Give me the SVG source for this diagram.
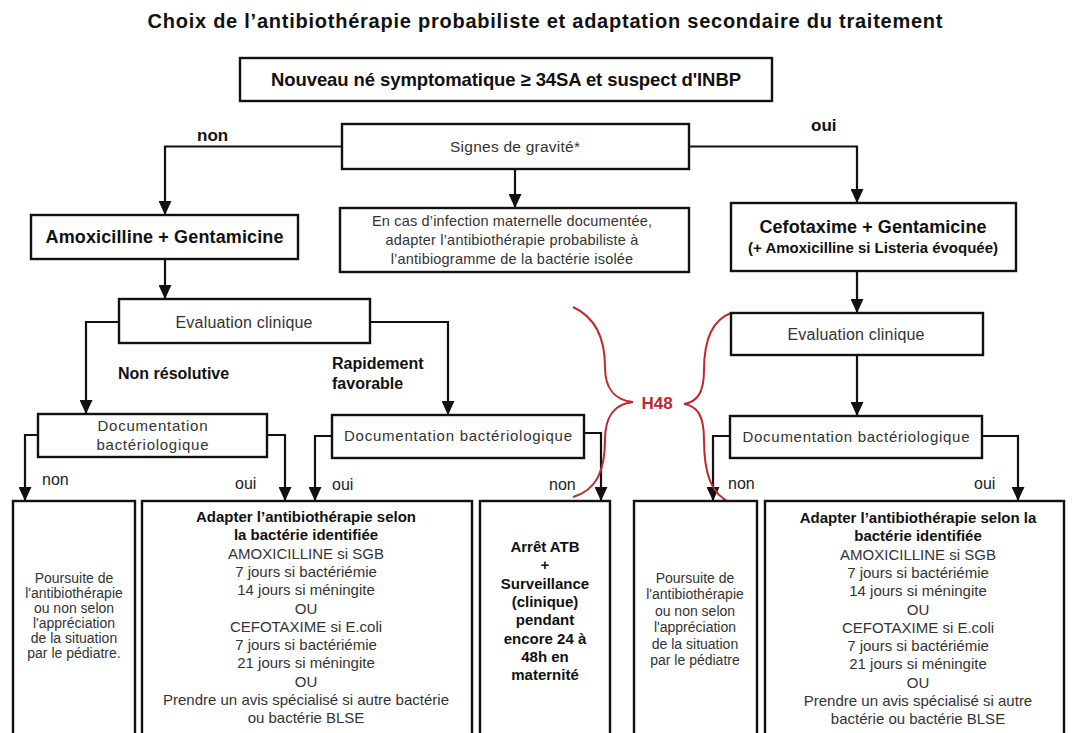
<svg xmlns="http://www.w3.org/2000/svg" width="1072" height="733" viewBox="0 0 1072 733">
<style>
text{font-family:"Liberation Sans",Arial,sans-serif;}
.box{fill:#fff;stroke:#111;stroke-width:2.4;}
.con{fill:none;stroke:#111;stroke-width:2.2;}
.brace{fill:none;stroke:#c0282d;stroke-width:2;}
.b{font-weight:bold;fill:#111;}
.r{fill:#333;}
.m{text-anchor:middle;}
.lab{font-size:17px;font-weight:bold;fill:#111;}
.lab2{font-size:16px;fill:#222;}
.t15{font-size:15px;}
.t14{font-size:14px;}
</style>
<defs>
<marker id="ah" viewBox="0 0 14 13" refX="14" refY="6.5" markerWidth="14" markerHeight="13" markerUnits="userSpaceOnUse" orient="auto">
<path d="M0,0 L14,6.5 L0,13 z" fill="#111"/>
</marker>
</defs>
<rect width="1072" height="733" fill="#fff"/>

<text class="b m" x="545" y="28" font-size="20" textLength="795">Choix de l’antibiothérapie probabiliste et adaptation secondaire du traitement</text>

<g id="connectors">
<path class="con" d="M342,146.5 H165 V215" marker-end="url(#ah)"/>
<path class="con" d="M689,146.5 H857 V203" marker-end="url(#ah)"/>
<path class="con" d="M515,169 V208" marker-end="url(#ah)"/>
<path class="con" d="M165,259 V299" marker-end="url(#ah)"/>
<path class="con" d="M857,271 V313" marker-end="url(#ah)"/>
<path class="con" d="M119,322 H86 V414" marker-end="url(#ah)"/>
<path class="con" d="M370,322 H448 V415" marker-end="url(#ah)"/>
<path class="con" d="M857,355 V416" marker-end="url(#ah)"/>
<path class="con" d="M38,435 H25 V501" marker-end="url(#ah)"/>
<path class="con" d="M267,435 H285 V501" marker-end="url(#ah)"/>
<path class="con" d="M332,436 H315 V501" marker-end="url(#ah)"/>
<path class="con" d="M584,433 H601 V501" marker-end="url(#ah)"/>
<path class="con" d="M730,436 H713 V501" marker-end="url(#ah)"/>
<path class="con" d="M982,436 H1018 V501" marker-end="url(#ah)"/>
<text class="lab" x="197" y="141">non</text>
<text class="lab" x="811" y="131">oui</text>
<text class="b" x="118" y="379" font-size="16">Non résolutive</text>
<text class="b" x="332" y="369" font-size="16">Rapidement</text>
<text class="b" x="332" y="389" font-size="16">favorable</text>
<text class="lab2" x="42" y="485">non</text>
<text class="lab2" x="235" y="489">oui</text>
<text class="lab2" x="332" y="490">oui</text>
<text class="lab2" x="549" y="490">non</text>
<text class="lab2" x="728" y="489">non</text>
<text class="lab2" x="974" y="489">oui</text>
</g>

<g id="h48">
<path class="brace" d="M573,307 C597,318 605,340 605,367 C605,390 615,400 633,402 C615,404 605,415 605,440 C605,470 597,490 573,497"/>
<path class="brace" d="M731,313 C712,320 704,340 704,370 C704,393 697,402 684,404 C697,406 704,415 704,440 C704,475 712,495 731,503"/>
<text x="657" y="409" class="m" font-size="17" font-weight="bold" fill="#c0282d">H48</text>
</g>

<g id="n-top">
<rect class="box" x="240" y="58" width="532" height="43"/>
<text class="b m" x="506" y="86" font-size="18.5" textLength="470">Nouveau né symptomatique ≥ 34SA et suspect d'INBP</text>
</g>

<g id="n-signes">
<rect class="box" x="342" y="124" width="347" height="45"/>
<text class="r m" x="515" y="152" font-size="15.5" textLength="130">Signes de gravité*</text>
</g>

<g id="n-info">
<rect class="box" x="340" y="208" width="349" height="64"/>
<text class="r m" x="512" y="226" font-size="14.5" textLength="280">En cas d’infection maternelle documentée,</text>
<text class="r m" x="512" y="245" font-size="14.5" letter-spacing="0.2">adapter l’antibiothérapie probabiliste à</text>
<text class="r m" x="512" y="264" font-size="14.5" letter-spacing="0.2">l’antibiogramme de la bactérie isolée</text>
</g>

<g id="n-amox">
<rect class="box" x="31" y="215" width="267" height="44"/>
<text class="b m" x="164.5" y="243" font-size="18" textLength="238">Amoxicilline + Gentamicine</text>
</g>

<g id="n-cefo">
<rect class="box" x="731" y="203" width="285" height="68"/>
<text class="b m" x="873" y="233" font-size="18" textLength="227">Cefotaxime + Gentamicine</text>
<text class="b m" x="873" y="253" font-size="15" textLength="250">(+ Amoxicilline si Listeria évoquée)</text>
</g>

<g id="n-eval-left">
<rect class="box" x="119" y="299" width="251" height="44"/>
<text class="r m" x="244" y="328" font-size="16" textLength="137">Evaluation clinique</text>
</g>

<g id="n-eval-right">
<rect class="box" x="731" y="313" width="252" height="42"/>
<text class="r m" x="856" y="340" font-size="16" textLength="137">Evaluation clinique</text>
</g>

<g id="n-doc-left">
<rect class="box" x="38" y="414" width="229" height="43"/>
<text class="r m" x="152.5" y="431" font-size="15" textLength="110">Documentation</text>
<text class="r m" x="152.5" y="450" font-size="15" textLength="112">bactériologique</text>
</g>

<g id="n-doc-center">
<rect class="box" x="332" y="415" width="252" height="43"/>
<text class="r m" x="458" y="441" font-size="15" textLength="228">Documentation bactériologique</text>
</g>

<g id="n-doc-right">
<rect class="box" x="730" y="416" width="252" height="42"/>
<text class="r m" x="856" y="442" font-size="15" textLength="227">Documentation bactériologique</text>
</g>

<g id="n-res1">
<rect class="box" x="13" y="501" width="122" height="240"/>
<text class="r m t14" x="74" y="583">Poursuite de</text>
<text class="r m t14" x="74" y="598">l'antibiothérapie</text>
<text class="r m t14" x="74" y="613">ou non selon</text>
<text class="r m t14" x="74" y="628">l'appréciation</text>
<text class="r m t14" x="74" y="643">de la situation</text>
<text class="r m t14" x="74" y="658">par le pédiatre.</text>
</g>

<g id="n-res2">
<rect class="box" x="142" y="501" width="330" height="240"/>
<text class="b m t15" x="306" y="522">Adapter l’antibiothérapie selon</text>
<text class="b m t15" x="306" y="540.3">la bactérie identifiée</text>
<text class="r m t15" x="306" y="558.6">AMOXICILLINE si SGB</text>
<text class="r m t15" x="306" y="576.9">7 jours si bactériémie</text>
<text class="r m t15" x="306" y="595.2">14 jours si méningite</text>
<text class="r m t15" x="306" y="613.5">OU</text>
<text class="r m t15" x="306" y="631.8">CEFOTAXIME si E.coli</text>
<text class="r m t15" x="306" y="650.1">7 jours si bactériémie</text>
<text class="r m t15" x="306" y="668.4">21 jours si méningite</text>
<text class="r m t15" x="306" y="686.7">OU</text>
<text class="r m t15" x="306" y="705">Prendre un avis spécialisé si autre bactérie</text>
<text class="r m t15" x="306" y="723.3">ou bactérie BLSE</text>
</g>

<g id="n-res3">
<rect class="box" x="480" y="501" width="130" height="240"/>
<text class="b m t15" x="545" y="552">Arrêt ATB</text>
<text class="b m t15" x="545" y="570.3">+</text>
<text class="b m t15" x="545" y="588.6">Surveillance</text>
<text class="b m t15" x="545" y="606.9">(clinique)</text>
<text class="b m t15" x="545" y="625.2">pendant</text>
<text class="b m t15" x="545" y="643.5">encore 24 à</text>
<text class="b m t15" x="545" y="661.8">48h en</text>
<text class="b m t15" x="545" y="680.1">maternité</text>
</g>

<g id="n-res4">
<rect class="box" x="634" y="501" width="123" height="240"/>
<text class="r m t14" x="695" y="583">Poursuite de</text>
<text class="r m t14" x="695" y="599.4">l'antibiothérapie</text>
<text class="r m t14" x="695" y="615.8">ou non selon</text>
<text class="r m t14" x="695" y="632.2">l'appréciation</text>
<text class="r m t14" x="695" y="648.6">de la situation</text>
<text class="r m t14" x="695" y="665">par le pédiatre</text>
</g>

<g id="n-res5">
<rect class="box" x="765" y="501" width="299" height="240"/>
<text class="b m t15" x="918" y="523">Adapter l’antibiothérapie selon la</text>
<text class="b m t15" x="918" y="541.3">bactérie identifiée</text>
<text class="r m t15" x="918" y="559.6">AMOXICILLINE si SGB</text>
<text class="r m t15" x="918" y="577.9">7 jours si bactériémie</text>
<text class="r m t15" x="918" y="596.2">14 jours si méningite</text>
<text class="r m t15" x="918" y="614.5">OU</text>
<text class="r m t15" x="918" y="632.8">CEFOTAXIME si E.coli</text>
<text class="r m t15" x="918" y="651.1">7 jours si bactériémie</text>
<text class="r m t15" x="918" y="669.4">21 jours si méningite</text>
<text class="r m t15" x="918" y="687.7">OU</text>
<text class="r m t15" x="918" y="706">Prendre un avis spécialisé si autre</text>
<text class="r m t15" x="918" y="724.3">bactérie ou bactérie BLSE</text>
</g>
</svg>
